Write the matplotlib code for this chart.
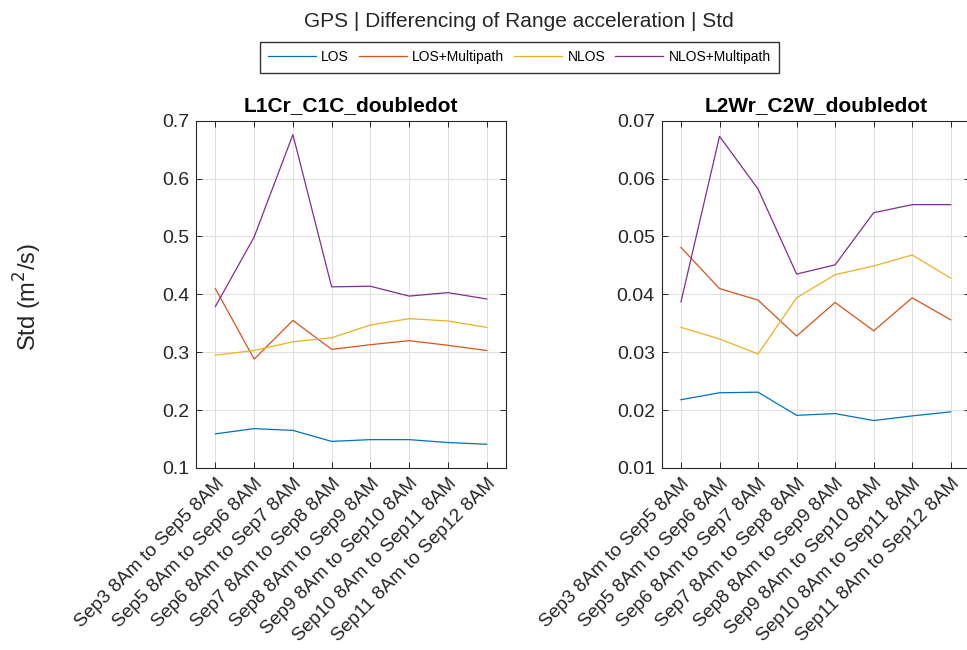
import matplotlib.pyplot as plt
from matplotlib.transforms import ScaledTranslation

plt.rcParams['font.family'] = ['Liberation Sans', 'DejaVu Sans']

# Periodos (eixo x)
periodos = ['Sep3 8Am to Sep5 8AM', 'Sep5 8Am to Sep6 8AM', 'Sep6 8Am to Sep7 8AM',
            'Sep7 8Am to Sep8 8AM', 'Sep8 8Am to Sep9 8AM', 'Sep9 8Am to Sep10 8AM',
            'Sep10 8Am to Sep11 8AM', 'Sep11 8Am to Sep12 8AM']

# L1Cr_C1C_doubledot
l1_los = [0.159, 0.168, 0.165, 0.146, 0.149, 0.149, 0.144, 0.141]
l1_los_mp = [0.410, 0.288, 0.355, 0.305, 0.313, 0.320, 0.312, 0.303]
l1_nlos = [0.295, 0.303, 0.318, 0.325, 0.347, 0.358, 0.354, 0.343]
l1_nlos_mp = [0.379, 0.499, 0.676, 0.413, 0.414, 0.397, 0.403, 0.392]

# L2Wr_C2W_doubledot
l2_los = [0.0218, 0.0230, 0.0231, 0.0191, 0.0194, 0.0182, 0.0190, 0.0197]
l2_los_mp = [0.0481, 0.0410, 0.0390, 0.0328, 0.0386, 0.0337, 0.0394, 0.0356]
l2_nlos = [0.0343, 0.0323, 0.0297, 0.0394, 0.0434, 0.0449, 0.0468, 0.0428]
l2_nlos_mp = [0.0387, 0.0673, 0.0582, 0.0435, 0.0451, 0.0541, 0.0555, 0.0555]

rotulos = ['LOS', 'LOS+Multipath', 'NLOS', 'NLOS+Multipath']
cores = ['#0072BD', '#D95319', '#EDB120', '#7E2F8E']

paineis = [
    ('L1Cr_C1C_doubledot', [l1_los, l1_los_mp, l1_nlos, l1_nlos_mp],
     [0.1, 0.2, 0.3, 0.4, 0.5, 0.6, 0.7], '%.1f'),
    ('L2Wr_C2W_doubledot', [l2_los, l2_los_mp, l2_nlos, l2_nlos_mp],
     [0.01, 0.02, 0.03, 0.04, 0.05, 0.06, 0.07], '%.2f'),
]

cinza = '#262626'
fig = plt.figure(figsize=(9.67, 6.5), dpi=100)
posicoes = [[0.2027, 0.28, 0.3206, 0.5343], [0.6843, 0.28, 0.3188, 0.5343]]
desloca = ScaledTranslation(0.12, 0, fig.dpi_scale_trans)

x = list(range(1, len(periodos) + 1))
for pos, (titulo, series, yt, fmt) in zip(posicoes, paineis):
    ax = fig.add_axes(pos)
    for s, c, r in zip(series, cores, rotulos):
        ax.plot(x, s, color=c, lw=0.9, label=r)
    ax.set_xlim(0.5, 8.5)
    ax.set_ylim(yt[0], yt[-1])
    ax.set_xticks(x)
    ax.set_xticklabels(periodos, rotation=45, ha='right', rotation_mode='anchor',
                       fontsize=13.7)
    for lbl in ax.get_xticklabels():
        lbl.set_transform(lbl.get_transform() + desloca)
    ax.set_yticks(yt)
    ax.set_yticklabels([fmt % v for v in yt])
    ax.set_title(titulo, fontsize=15, fontweight='bold', pad=7)
    ax.grid(True, color='#e0e0e0', lw=0.7)
    ax.set_axisbelow(True)
    ax.tick_params(direction='in', length=4, width=0.7, colors=cinza,
                   top=True, right=True, pad=5)
    ax.tick_params(axis='y', labelsize=14)
    for sp in ax.spines.values():
        sp.set_color(cinza)
        sp.set_linewidth(0.8)

fig.text(0.537, 0.967, 'GPS | Differencing of Range acceleration | Std',
         ha='center', va='center', fontsize=15, color=cinza)
fig.text(0.029, 0.543, 'Std (m$^2$/s)', rotation=90, ha='center', va='center',
         fontsize=17, color=cinza)

h, l = fig.axes[0].get_legend_handles_labels()
fig.legend(h, l, loc='center', bbox_to_anchor=(0.537, 0.912), ncol=4,
           fontsize=10, frameon=True, fancybox=False, edgecolor='k',
           handlelength=3.45, columnspacing=0.7, borderpad=0.6,
           handletextpad=0.4, borderaxespad=0)

fig.savefig('out.png', dpi=100)
